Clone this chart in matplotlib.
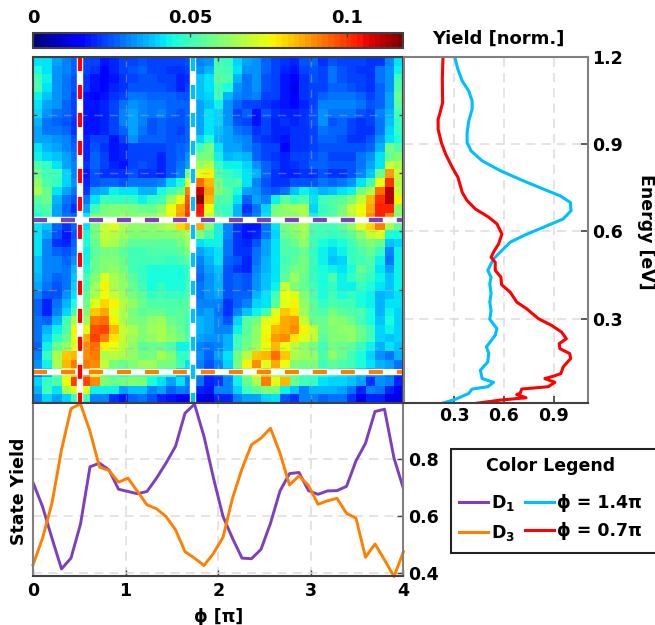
import numpy as np
import matplotlib
matplotlib.use("Agg")
import matplotlib.pyplot as plt
from matplotlib.lines import Line2D
from matplotlib.patches import Rectangle

plt.rcParams["font.family"] = "DejaVu Sans"
plt.rcParams["font.weight"] = "bold"
plt.rcParams["font.size"] = 12.5
plt.rcParams["mathtext.fontset"] = "dejavusans"

# yield map, units of 0.001, top row is 1.2 eV
yield_map = [
    [42,42,35,30,27,23,23,18,19,23,23,24,23,23,23,23,25,30,32,50,48,40,35,32,27,23,21,20,24,27,21,24,23,23,23,21,21,30,42],
    [45,42,33,30,27,23,21,16,19,23,24,26,23,23,21,21,23,32,36,52,50,42,32,32,27,23,20,18,23,25,23,28,25,23,21,21,29,32,44],
    [50,44,33,29,25,21,18,16,18,21,23,25,25,23,23,19,21,38,42,54,52,36,29,33,25,23,18,13,21,25,23,28,25,23,23,21,29,33,50],
    [52,42,32,28,25,21,18,16,19,21,24,25,25,25,23,19,23,38,42,50,46,32,28,33,25,23,17,12,21,23,23,27,27,25,23,21,27,32,52],
    [44,38,32,28,23,18,16,17,21,23,28,28,27,27,27,25,25,38,40,50,36,30,28,30,23,23,17,14,21,23,27,29,29,29,27,23,27,34,57],
    [42,34,32,27,23,17,17,19,23,29,32,30,29,28,27,27,27,34,38,44,32,27,23,23,21,20,18,16,20,23,30,30,30,30,29,25,27,35,55],
    [40,32,29,27,23,17,17,19,23,30,34,30,29,30,27,25,27,34,42,40,32,23,27,18,25,21,19,19,21,25,32,28,29,29,25,23,30,36,50],
    [36,29,27,25,21,17,17,19,23,30,34,30,25,27,25,25,27,34,42,40,32,25,23,18,23,19,21,19,21,25,32,25,27,23,21,23,29,38,48],
    [34,29,29,27,21,17,18,20,23,27,34,29,25,27,25,23,27,34,42,38,34,29,27,21,23,19,19,21,21,23,29,27,27,23,21,21,29,40,48],
    [34,34,32,30,25,19,23,23,18,23,32,27,27,27,25,25,27,40,46,36,34,32,30,23,21,19,17,21,21,23,27,27,25,21,21,25,32,42,46],
    [42,36,34,30,27,19,25,21,17,19,23,23,23,23,25,27,29,50,58,42,34,34,30,27,23,23,16,21,21,23,25,25,25,25,25,27,36,58,52],
    [44,40,38,34,28,20,27,23,18,19,23,23,23,19,25,27,32,58,58,44,36,38,36,27,23,21,19,23,23,25,27,23,23,23,29,32,42,57,60],
    [52,48,42,35,30,21,27,23,19,18,23,25,23,19,25,29,34,64,68,48,44,44,40,32,27,23,20,21,23,27,27,25,25,25,29,34,42,70,66],
    [56,50,50,40,30,18,24,22,22,22,24,22,22,20,24,30,58,74,76,52,48,46,42,36,26,22,20,20,22,22,24,22,22,24,30,38,56,88,70],
    [62,52,48,40,32,20,24,26,26,24,28,28,28,30,40,46,72,94,84,58,50,52,42,30,24,22,22,24,24,24,28,26,28,32,42,50,74,100,68],
    [66,56,42,34,28,22,34,36,44,42,42,36,36,46,50,56,92,110,88,60,54,46,34,32,26,24,28,38,44,40,36,38,42,44,58,66,94,112,70],
    [54,56,36,28,25,28,42,50,48,48,48,44,48,50,64,74,96,116,84,52,52,42,26,34,30,44,54,48,52,42,50,52,54,60,70,84,100,112,76],
    [50,52,34,26,22,34,50,58,60,60,58,56,56,62,74,86,98,104,74,50,48,36,22,28,40,58,62,64,66,40,48,52,58,70,74,86,102,102,62],
    [46,50,34,28,26,42,60,60,60,62,60,62,62,66,76,88,100,102,70,54,48,36,24,30,42,60,62,62,66,44,50,52,60,68,76,90,102,92,60],
    [42,38,26,22,26,42,58,70,72,66,62,62,62,64,68,80,86,86,60,44,30,22,17,18,28,42,58,62,66,52,50,50,54,62,72,80,92,66,54],
    [42,34,24,18,25,46,58,70,68,64,60,60,60,60,60,62,68,60,52,44,30,22,18,20,28,40,56,60,64,50,50,48,50,54,62,70,72,46,46],
    [42,30,22,20,26,46,56,68,66,60,54,54,54,54,54,58,64,42,44,44,28,22,20,24,34,42,52,56,62,50,46,44,46,50,56,60,56,38,40],
    [42,30,26,24,28,44,54,58,58,54,50,50,52,52,52,54,60,34,38,42,28,22,22,28,34,42,52,52,56,48,44,40,44,48,52,56,48,30,44],
    [38,30,30,26,32,44,56,60,60,56,50,50,50,50,48,50,54,30,36,42,26,24,20,28,36,42,50,54,58,48,44,38,40,48,50,52,44,28,44],
    [38,30,30,28,36,46,56,60,62,58,50,48,46,46,46,46,48,28,34,38,24,22,20,30,36,42,52,58,58,48,46,44,42,46,56,50,42,34,44],
    [36,30,26,28,38,50,60,72,66,62,54,48,46,46,46,46,48,26,32,36,24,26,24,32,38,42,54,64,56,48,46,52,44,48,52,48,44,38,44],
    [34,28,24,28,40,50,64,76,66,62,56,50,46,48,46,46,50,28,32,36,24,26,24,32,38,44,70,60,56,50,46,48,44,44,48,46,42,38,44],
    [30,24,24,32,42,54,66,74,70,64,58,54,48,50,48,48,52,28,32,34,24,26,26,36,42,50,74,72,60,52,46,50,46,48,46,44,36,38,42],
    [26,20,28,36,46,56,72,80,76,68,62,56,52,52,52,52,54,30,30,30,22,26,30,40,42,54,72,76,62,54,48,52,50,50,46,44,36,42,42],
    [26,20,30,40,52,60,82,86,72,66,58,54,56,56,52,54,52,32,34,28,22,30,38,44,50,72,82,78,64,54,52,58,54,52,52,46,36,44,40],
    [28,26,36,50,66,64,92,94,76,66,60,58,62,64,56,54,50,36,34,30,24,40,54,58,72,76,86,88,70,56,56,62,60,56,50,46,38,46,40],
    [28,36,44,52,76,72,96,98,84,70,66,60,64,66,60,56,50,36,34,30,30,44,54,62,74,84,86,90,76,70,56,60,62,62,56,50,40,44,40],
    [28,40,48,56,74,86,98,92,78,70,64,60,62,66,62,58,52,34,32,32,36,50,56,62,76,88,90,78,72,70,54,60,60,62,56,50,40,38,40],
    [26,44,56,62,72,90,94,76,74,68,62,54,56,56,52,44,44,30,28,30,36,50,58,64,74,84,74,68,62,58,50,58,56,54,48,44,36,42,38],
    [30,48,66,82,84,90,92,66,68,66,62,58,58,66,60,48,48,32,26,34,42,58,68,82,84,94,82,66,64,62,52,62,56,50,46,40,32,28,36],
    [32,44,66,84,92,92,90,70,58,56,60,64,64,58,58,50,42,30,24,30,40,58,76,90,72,86,74,60,58,60,50,54,52,50,46,42,36,34,28],
    [28,36,54,70,82,90,76,58,52,48,54,52,50,48,46,36,34,30,22,24,32,44,60,76,84,66,60,56,50,50,46,44,42,40,36,30,32,28,22],
    [40,48,52,74,98,98,90,60,56,58,60,60,46,42,34,42,30,28,20,22,30,44,56,66,92,72,84,56,50,48,42,40,40,38,34,22,32,30,20],
    [36,50,42,66,72,72,44,44,44,34,38,38,30,34,26,30,28,20,18,30,30,40,50,54,60,60,44,38,30,36,36,36,34,28,20,30,28,20,16],
    [30,40,34,40,50,50,30,30,22,18,26,28,24,20,18,14,12,12,10,20,20,30,34,34,40,42,24,22,30,30,26,28,28,22,12,20,20,12,12],
]

phi = np.linspace(0, 4, 40)
d1 = [.718,.633,.521,.413,.451,.571,.773,.786,.762,.694,.686,.678,.686,.733,.786,.845,.962,.994,.880,.733,
      .598,.521,.451,.449,.482,.574,.688,.749,.753,.689,.676,.688,.689,.704,.794,.856,.968,.976,.804,.695]
d3 = [.427,.521,.645,.833,.978,.995,.898,.772,.760,.719,.733,.686,.639,.625,.598,.551,.474,.451,.425,.468,
      .524,.662,.766,.851,.874,.909,.821,.709,.741,.707,.641,.653,.662,.609,.592,.454,.501,.445,.386,.474]

red_e = [1.197,1.123,1.043,1.009,.986,.951,.906,.866,.820,.786,.734,.706,.677,.649,.626,.591,.557,.529,.511,.494,.466,.443,.417,
         .391,.357,.334,.300,.277,.254,.231,.214,.197,.180,.163,.134,.111,.102,.094,.081,.066,.058,.043,.039,.028,.020,.009]
red_y = [.234,.230,.232,.217,.205,.205,.224,.250,.290,.324,.350,.379,.429,.509,.558,.588,.568,.538,.523,.548,.548,.582,.586,
         .638,.677,.737,.807,.886,.946,.975,.932,.936,.995,1.001,.956,.942,.896,.846,.906,.866,.707,.697,.677,.733,.578,.435]
blue_e = [1.197,1.157,1.117,1.083,1.049,1.020,.980,.940,.906,.877,.843,.809,.774,.746,.723,.700,.671,.643,.614,.588,.563,.529,
          .506,.466,.443,.420,.386,.357,.328,.298,.266,.243,.203,.180,.151,.123,.094,.081,.066,.058,.043,.023,.009]
blue_y = [.306,.324,.350,.389,.409,.409,.389,.379,.379,.403,.469,.578,.717,.836,.936,.999,1.003,.956,.836,.727,.638,.578,
          .538,.503,.523,.515,.523,.515,.523,.515,.558,.548,.495,.509,.503,.459,.469,.538,.503,.409,.389,.310,.230]

PURPLE = "#7e3fbe"
ORANGE = "#ff8000"
CYAN = "#00bfff"
RED = "#ff0000"
GRAY = "#808080"
DARK = "#404040"
W, H = 655.0, 625.0


def box(x0, y0, x1, y1):
    return [x0 / W, 1 - y1 / H, (x1 - x0) / W, (y1 - y0) / H]


def cut_line(ax, xs, ys, color):
    # white band with a dashed colour on top
    ax.plot(xs, ys, color="white", lw=4.6, solid_capstyle="butt")
    ax.plot(xs, ys, color=color, lw=3.1, dashes=(3.25, 3.25), dash_capstyle="butt")


fig = plt.figure(figsize=(6.55, 6.25), dpi=100)

# colorbar
cax = fig.add_axes(box(33, 32.5, 403.5, 48))
ax = fig.add_axes(box(33, 57, 403.5, 403))
ar = fig.add_axes(box(404, 57, 588, 403))
ab = fig.add_axes(box(33, 403, 403.5, 576))

cmap = plt.get_cmap("jet", 64)
im = ax.imshow(np.array(yield_map) / 1000.0, extent=[0, 4, 0.01, 1.2], aspect="auto",
               cmap=cmap, vmin=0, vmax=0.118, interpolation="nearest")
cb = fig.colorbar(im, cax=cax, orientation="horizontal")
cb.set_ticks([0, 0.05, 0.1])
cb.set_ticklabels(["0", "0.05", "0.1"], fontsize=13)
cax.xaxis.set_ticks_position("top")
cax.tick_params(axis="x", direction="in", length=3, width=1, color=DARK, pad=4)
cb.outline.set_edgecolor(DARK)
cb.outline.set_linewidth(1.5)
fig.text(498 / W, 1 - 39 / H, "Yield [norm.]", ha="center", va="center", fontsize=13)

# map
ax.set_xlim(0, 4)
ax.set_ylim(0.01, 1.2)
ax.set_xticks([1, 2, 3])
ax.set_yticks([0.2, 0.4, 0.6, 0.8, 1.0])
ax.set_xticklabels([])
ax.set_yticklabels([])
ax.tick_params(direction="in", length=3, width=1, color=DARK, top=True, right=True)
ax.grid(True, color="#b0b0b0", ls=(0, (6, 5)), lw=1, alpha=0.45)
for s in ax.spines.values():
    s.set_edgecolor(DARK)
    s.set_linewidth(1.5)
cut_line(ax, [0, 4], [0.641, 0.641], PURPLE)
cut_line(ax, [0, 4], [0.118, 0.118], ORANGE)
cut_line(ax, [0.503, 0.503], [1.2, 0.01], RED)
cut_line(ax, [1.73, 1.73], [1.2, 0.01], CYAN)

# energy profiles
ar.plot(blue_y, blue_e, color=CYAN, lw=2.2)
ar.plot(red_y, red_e, color=RED, lw=2.2)
ar.set_xlim(0, 1.105)
ar.set_ylim(0.01, 1.2)
ar.set_xticks([0.3, 0.6, 0.9])
ar.set_yticks([0.3, 0.6, 0.9, 1.2])
ar.yaxis.tick_right()
ar.tick_params(direction="in", length=5, width=1.2, color=DARK, pad=3)
ar.tick_params(axis="y", pad=3)
ar.grid(True, color="#dddddd", ls=(0, (6, 4)), lw=1.1)
for name, s in ar.spines.items():
    s.set_edgecolor(DARK if name == "bottom" else GRAY)
    s.set_linewidth(1.5)
fig.text(646 / W, 1 - 232 / H, "Energy [eV]", rotation=-90, ha="center", va="center")

# state yield
ab.plot(phi, d1, color=PURPLE, lw=2.1)
ab.plot(phi, d3, color=ORANGE, lw=2.1, clip_on=False)
ab.set_xlim(0, 4)
ab.set_ylim(0.388, 0.998)
ab.set_xticks([0, 1, 2, 3, 4])
ab.set_yticks([0.4, 0.6, 0.8])
ab.yaxis.tick_right()
ab.tick_params(direction="in", length=4, width=1, color=DARK, pad=4)
ab.tick_params(axis="y", pad=3)
ab.grid(True, color="#dddddd", ls=(0, (6, 4)), lw=1.1)
ab.set_xlabel("\u03d5 [\u03c0]", labelpad=6, fontweight="bold")
for name, s in ab.spines.items():
    s.set_edgecolor(DARK if name in ("bottom", "top") else GRAY)
    s.set_linewidth(1.5)
fig.text(19 / W, 1 - 491 / H, "State Yield", rotation=90, ha="center", va="center")

# legend box, the frame runs off the right edge of the figure
frame = Rectangle((451 / W, 1 - 552.5 / H), 215 / W, 103.5 / H, transform=fig.transFigure,
                  fc="white", ec="#222222", lw=1.5)
fig.add_artist(frame)
handles = [
    Line2D([], [], color=PURPLE, lw=2.2, label=r"D$_{\mathbf{1}}$"),
    Line2D([], [], color=ORANGE, lw=2.2, label=r"D$_{\mathbf{3}}$"),
    Line2D([], [], color=CYAN, lw=2.2, label="\u03d5 = 1.4\u03c0"),
    Line2D([], [], color=RED, lw=2.2, label="\u03d5 = 0.7\u03c0"),
]
leg = fig.legend(handles=handles, ncol=2, title="Color Legend", loc="upper left",
                 bbox_to_anchor=(451 / W, 1 - 449 / H), borderaxespad=0, frameon=False,
                 handlelength=1.7, handletextpad=0.15, columnspacing=0.55, labelspacing=0.6,
                 borderpad=0.45, title_fontproperties={"weight": "bold", "size": 12.5},
                 prop={"weight": "bold", "size": 12.5})
leg._legend_box.sep = 13

fig.savefig("out.png", dpi=100)
